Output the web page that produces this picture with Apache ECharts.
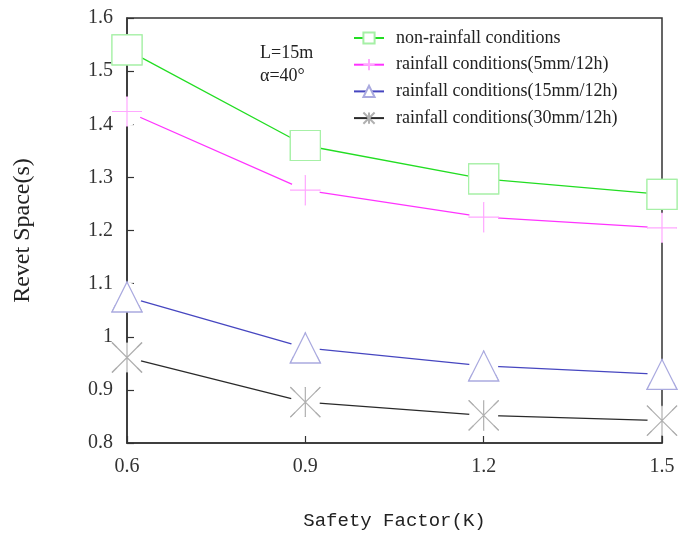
<!DOCTYPE html>
<html>
<head>
<meta charset="utf-8">
<script src="https://cdn.jsdelivr.net/npm/echarts@6/dist/echarts.min.js"></script>
<style>
html,body{margin:0;padding:0;background:#fff;}
#chart{width:678px;height:536px;}
</style>
</head>
<body>
<div id="chart"></div>
<script>
// ---- data ----
const safetyFactor = [0.6, 0.9, 1.2, 1.5];
const seriesNames = [
  'non-rainfall conditions',
  'rainfall conditions(5mm/12h)',
  'rainfall conditions(15mm/12h)',
  'rainfall conditions(30mm/12h)'
];
const nonRainfall = [1.54, 1.36, 1.297, 1.268];
const rain5 = [1.424, 1.276, 1.225, 1.205];
const rain15 = [1.075, 0.979, 0.945, 0.929];
const rain30 = [0.961, 0.877, 0.852, 0.842];
const xTitle = 'Safety Factor(K)';
const yTitle = 'Revet Space(s)';
const noteLines = ['L=15m', 'α=40°'];

// ---- styles ----
const allValues = [nonRainfall, rain5, rain15, rain30];
const lineColors = ['#22dd22', '#ff33ff', '#4646c0', '#2a2a2a'];
const markerColors = ['#a6f0a6', '#ffa8ff', '#aaaadf', '#b0b0b0'];
const markers = [
  'rect',
  'path://M15 0 L15 30 M0 15 L30 15',
  'triangle',
  'path://M0 0 L30 30 M30 0 L0 30 M15 0 L15 30'
];
const serif = '"Liberation Serif", "Times New Roman", serif';

function pairs(vals) { return safetyFactor.map((x, i) => [x, vals[i]]); }

const series = [];
allValues.forEach((vals, i) => {
  series.push({
    name: seriesNames[i], type: 'line', data: pairs(vals), z: 2, clip: false,
    symbol: markers[i], symbolSize: 30,
    lineStyle: { color: lineColors[i], width: 1.3 },
    itemStyle: { color: '#fff', borderColor: markerColors[i], borderWidth: 1.2 },
    animation: false, silent: true
  });
  series.push({
    name: '_mask' + i, type: 'line', data: pairs(vals), z: 3, clip: false,
    symbol: 'circle', symbolSize: 29,
    lineStyle: { opacity: 0, width: 0 },
    itemStyle: { color: '#fff', borderWidth: 0 },
    animation: false, silent: true
  });
  series.push({
    name: '_mark' + i, type: 'line', data: pairs(vals), z: 4, clip: false,
    symbol: markers[i], symbolSize: 30,
    lineStyle: { opacity: 0, width: 0 },
    itemStyle: { color: '#fff', borderColor: markerColors[i], borderWidth: 1.2 },
    animation: false, silent: true
  });
});

const chart = echarts.init(document.getElementById('chart'), null, { renderer: 'canvas' });
chart.setOption({
  backgroundColor: '#fff',
  animation: false,
  grid: {
    left: 127, right: 16, top: 18, bottom: 93,
    show: true, borderColor: '#333', borderWidth: 1.5, backgroundColor: 'transparent'
  },
  xAxis: {
    type: 'value', min: 0.6, max: 1.5, interval: 0.3,
    name: xTitle, nameLocation: 'middle', nameGap: 68,
    nameTextStyle: { fontFamily: '"Liberation Mono", monospace', fontSize: 19, color: '#222' },
    axisLine: { show: true, lineStyle: { color: '#333', width: 1.5 } },
    axisTick: { show: true, inside: true, length: 7, lineStyle: { color: '#333', width: 1.2 } },
    axisLabel: { fontFamily: serif, fontSize: 20, color: '#333', margin: 14 },
    splitLine: { show: false }
  },
  yAxis: {
    type: 'value', min: 0.8, max: 1.6, interval: 0.1,
    name: yTitle, nameLocation: 'middle', nameGap: 92,
    nameTextStyle: { fontFamily: serif, fontSize: 24, color: '#222' },
    axisLine: { show: true, lineStyle: { color: '#333', width: 1.5 } },
    axisTick: { show: true, inside: true, length: 7, lineStyle: { color: '#333', width: 1.2 } },
    axisLabel: { fontFamily: serif, fontSize: 20, color: '#333', margin: 14 },
    splitLine: { show: false }
  },
  legend: {
    data: seriesNames,
    orient: 'vertical', left: 348, top: 24,
    itemWidth: 30, itemHeight: 14, itemGap: 8.7,
    textStyle: { fontFamily: serif, fontSize: 18, color: '#222', lineHeight: 18, padding: [0, 0, 0, 7] },
    selectedMode: false
  },
  graphic: [
    { type: 'text', left: 260, top: 44, style: { text: noteLines[0], font: '18px ' + serif, fill: '#222' } },
    { type: 'text', left: 260, top: 67, style: { text: noteLines[1], font: '18px ' + serif, fill: '#222' } }
  ],
  series: series
});
</script>
</body>
</html>
